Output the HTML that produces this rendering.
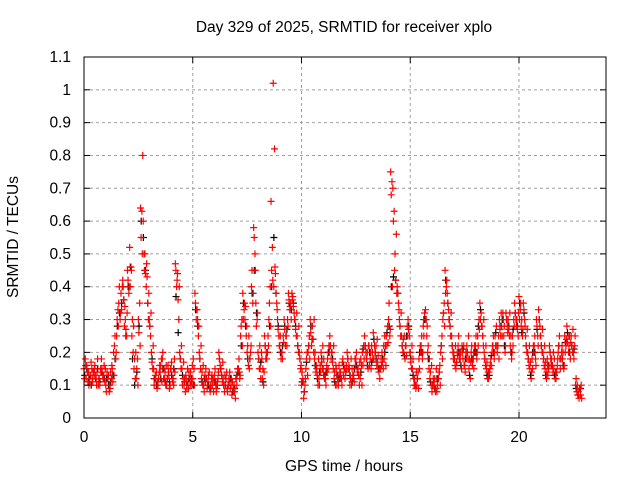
<!DOCTYPE html>
<html><head><meta charset="utf-8"><style>
body{margin:0;background:#fff}
svg text{font-family:"Liberation Sans",sans-serif;font-size:15.5px;fill:#000}
</style></head><body>
<svg id="chart" width="640" height="480" xmlns="http://www.w3.org/2000/svg">
<rect width="640" height="480" fill="#fff"/>
<g id="grid"></g><g id="ptsK"></g><g id="ptsR"></g><g id="axes"></g>
<text x="344" y="32" text-anchor="middle">Day 329 of 2025, SRMTID for receiver xplo</text>
<text x="344" y="471" text-anchor="middle">GPS time / hours</text>
<text transform="translate(18,237) rotate(-90)" text-anchor="middle">SRMTID / TECUs</text>
</svg>
<script>
const xTicks=[0,5,10,15,20];
const yTicks=[0,0.1,0.2,0.3,0.4,0.5,0.6,0.7,0.8,0.9,1,1.1];
const yTickLabels=["0","0.1","0.2","0.3","0.4","0.5","0.6","0.7","0.8","0.9","1","1.1"];
const startHour=0, stepHour=0.1;
const redA=[0.15,0.12,0.14,0.13,0.11,0.16,0.14,0.12,0.18,0.13,
0.10,0.12,0.09,0.15,0.22,0.25,0.35,0.38,0.40,0.30,
0.45,0.52,0.25,0.15,0.12,0.30,0.64,0.80,0.50,0.43,
0.30,0.20,0.15,0.12,0.10,0.14,0.18,0.12,0.10,0.13,
0.15,0.12,0.47,0.44,0.20,0.15,0.10,0.12,0.09,0.14,
0.12,0.38,0.33,0.20,0.12,0.10,0.15,0.11,0.08,0.10,
0.13,0.09,0.20,0.15,0.12,0.10,0.08,0.14,0.07,0.10,
0.12,0.15,0.25,0.38,0.30,0.20,0.15,0.40,0.58,0.35,
0.20,0.15,0.12,0.25,0.18,0.30,0.66,1.02,0.44,0.30,
0.22,0.20,0.30,0.25,0.38,0.35,0.37,0.30,0.25,0.20,
0.10,0.06,0.15,0.20,0.30,0.28,0.18,0.15,0.12,0.20,
0.15,0.12,0.18,0.25,0.20,0.12,0.15,0.10,0.14,0.18,
0.12,0.20,0.15,0.10,0.13,0.18,0.15,0.12,0.20,0.25,
0.18,0.22,0.15,0.26,0.20,0.17,0.12,0.20,0.18,0.25,
0.30,0.75,0.70,0.50,0.40,0.30,0.25,0.20,0.22,0.30,
0.20,0.15,0.12,0.10,0.18,0.22,0.28,0.33,0.20,0.12,
0.08,0.10,0.15,0.12,0.20,0.30,0.45,0.38,0.30,0.25,
0.20,0.15,0.22,0.18,0.20,0.16,0.22,0.15,0.20,0.18,
0.22,0.25,0.35,0.28,0.20,0.15,0.12,0.18,0.22,0.25,
0.20,0.30,0.28,0.25,0.32,0.30,0.22,0.25,0.35,0.30,
0.37,0.28,0.35,0.25,0.20,0.15,0.18,0.22,0.30,0.33,
0.25,0.20,0.15,0.18,0.22,0.18,0.15,0.12,0.20,0.15,
0.18,0.25,0.28,0.22,0.25,0.20,0.10,0.07,0.09];
const redB=[0.18,0.14,0.11,0.15,0.13,0.12,0.10,0.15,0.13,0.11,
0.14,0.08,0.12,0.20,0.18,0.33,0.30,0.40,0.28,0.25,
0.38,0.46,0.20,0.12,0.18,0.35,0.63,0.50,0.40,0.30,
0.25,0.15,0.12,0.09,0.14,0.18,0.12,0.10,0.16,0.10,
0.12,0.18,0.40,0.30,0.15,0.12,0.08,0.15,0.12,0.10,
0.15,0.30,0.25,0.15,0.10,0.13,0.09,0.14,0.12,0.08,
0.10,0.12,0.16,0.11,0.08,0.14,0.12,0.10,0.09,0.06,
0.15,0.12,0.30,0.33,0.25,0.16,0.20,0.35,0.50,0.30,
0.15,0.20,0.10,0.18,0.25,0.40,0.52,0.82,0.35,0.25,
0.18,0.25,0.22,0.30,0.33,0.38,0.32,0.25,0.20,0.15,
0.12,0.10,0.20,0.25,0.22,0.20,0.14,0.10,0.16,0.15,
0.12,0.16,0.22,0.18,0.15,0.10,0.12,0.14,0.10,0.15,
0.16,0.15,0.12,0.13,0.18,0.15,0.10,0.16,0.22,0.20,
0.15,0.18,0.20,0.22,0.16,0.14,0.18,0.15,0.22,0.28,
0.25,0.72,0.63,0.56,0.35,0.25,0.20,0.18,0.28,0.25,
0.15,0.12,0.09,0.14,0.22,0.18,0.32,0.25,0.15,0.10,
0.12,0.08,0.10,0.16,0.25,0.35,0.40,0.33,0.25,0.20,
0.16,0.20,0.18,0.15,0.22,0.20,0.18,0.12,0.16,0.22,
0.18,0.30,0.32,0.22,0.16,0.12,0.15,0.20,0.18,0.28,
0.25,0.25,0.32,0.20,0.28,0.25,0.18,0.30,0.30,0.25,
0.33,0.25,0.30,0.20,0.16,0.12,0.22,0.18,0.25,0.28,
0.20,0.16,0.12,0.15,0.18,0.14,0.12,0.16,0.25,0.20,
0.15,0.22,0.25,0.18,0.20,0.22,0.08,0.06,0.10];
const redC=[0.12,0.16,0.10,0.17,0.14,0.13,0.18,0.10,0.15,0.16,
0.08,0.13,0.14,0.11,0.25,0.30,0.40,0.33,0.36,0.27,
0.42,0.40,0.30,0.18,0.15,0.26,0.55,0.60,0.44,0.35,
0.28,0.17,0.10,0.14,0.12,0.16,0.20,0.14,0.12,0.09,
0.17,0.10,0.45,0.36,0.18,0.10,0.12,0.09,0.14,0.11,
0.18,0.35,0.30,0.18,0.14,0.08,0.12,0.13,0.10,0.12,
0.15,0.11,0.18,0.13,0.10,0.12,0.10,0.09,0.11,0.08,
0.10,0.18,0.28,0.30,0.34,0.22,0.18,0.45,0.55,0.28,
0.18,0.12,0.15,0.22,0.20,0.35,0.45,0.40,0.38,0.27,
0.25,0.18,0.27,0.22,0.36,0.30,0.34,0.27,0.22,0.18,
0.14,0.08,0.18,0.22,0.26,0.24,0.20,0.13,0.10,0.17,
0.18,0.10,0.15,0.22,0.17,0.14,0.10,0.16,0.12,0.13,
0.14,0.18,0.10,0.15,0.11,0.20,0.13,0.18,0.16,0.22,
0.20,0.16,0.22,0.18,0.22,0.19,0.15,0.17,0.25,0.22,
0.35,0.68,0.60,0.42,0.38,0.28,0.22,0.25,0.19,0.27,
0.17,0.18,0.10,0.12,0.15,0.25,0.25,0.30,0.22,0.14,
0.10,0.12,0.08,0.14,0.22,0.32,0.38,0.35,0.28,0.22,
0.18,0.17,0.25,0.20,0.18,0.14,0.20,0.18,0.22,0.15,
0.25,0.22,0.30,0.25,0.18,0.17,0.14,0.16,0.25,0.22,
0.22,0.27,0.25,0.28,0.30,0.27,0.25,0.22,0.32,0.27,
0.30,0.30,0.33,0.22,0.18,0.17,0.15,0.25,0.28,0.30,
0.22,0.18,0.17,0.13,0.20,0.16,0.18,0.14,0.22,0.18,
0.20,0.20,0.23,0.25,0.22,0.18,0.12,0.08,0.07];
const redD=[0.16,0.11,0.13,0.12,0.15,0.10,0.12,0.14,0.12,0.15,
0.12,0.10,0.16,0.13,0.20,0.28,0.32,0.42,0.34,0.32,
0.40,0.45,0.28,0.20,0.10,0.22,0.50,0.45,0.47,0.38,
0.32,0.22,0.13,0.11,0.16,0.11,0.15,0.16,0.14,0.15,
0.11,0.14,0.42,0.40,0.22,0.17,0.13,0.11,0.10,0.16,
0.10,0.33,0.28,0.22,0.16,0.11,0.10,0.09,0.13,0.11,
0.08,0.14,0.15,0.17,0.13,0.09,0.11,0.12,0.08,0.12,
0.14,0.13,0.22,0.35,0.28,0.25,0.22,0.38,0.45,0.32,
0.22,0.18,0.14,0.20,0.22,0.28,0.42,0.46,0.33,0.22,
0.20,0.23,0.25,0.28,0.34,0.36,0.30,0.32,0.28,0.16,
0.11,0.12,0.13,0.18,0.24,0.30,0.16,0.18,0.14,0.22,
0.13,0.14,0.20,0.20,0.22,0.16,0.13,0.12,0.17,0.15,
0.15,0.16,0.18,0.12,0.16,0.14,0.17,0.10,0.18,0.18,
0.22,0.20,0.18,0.20,0.24,0.15,0.16,0.22,0.16,0.23,
0.27,0.40,0.45,0.38,0.33,0.32,0.24,0.22,0.25,0.20,
0.22,0.10,0.14,0.09,0.20,0.20,0.30,0.28,0.18,0.16,
0.11,0.09,0.12,0.10,0.18,0.28,0.42,0.30,0.32,0.18,
0.22,0.19,0.20,0.22,0.16,0.18,0.25,0.17,0.18,0.20,
0.20,0.27,0.28,0.30,0.22,0.14,0.16,0.22,0.20,0.22,
0.18,0.32,0.30,0.22,0.26,0.32,0.20,0.28,0.28,0.32,
0.35,0.27,0.28,0.27,0.22,0.14,0.20,0.16,0.22,0.25,
0.27,0.22,0.14,0.16,0.16,0.20,0.14,0.18,0.18,0.22,
0.16,0.24,0.20,0.23,0.27,0.25,0.10,0.09,0.06];
const blackC=[0.13,0.15,0.12,0.10,0.14,0.12,0.15,0.11,0.14,0.12,
0.12,0.10,0.11,0.13,0.18,0.28,0.32,0.35,0.36,0.25,
0.40,0.46,0.18,0.10,0.14,0.28,0.60,0.55,0.45,0.35,
0.28,0.18,0.12,0.10,0.12,0.12,0.15,0.11,0.12,0.11,
0.13,0.15,0.37,0.26,0.18,0.13,0.11,0.10,0.12,0.12,
0.10,0.33,0.28,0.18,0.11,0.12,0.12,0.10,0.09,0.12,
0.11,0.10,0.18,0.13,0.10,0.12,0.10,0.12,0.08,0.09,
0.13,0.14,0.22,0.35,0.28,0.18,0.18,0.38,0.45,0.32,
0.18,0.17,0.11,0.22,0.20,0.28,0.40,0.55,0.38,0.28,
0.20,0.22,0.28,0.27,0.35,0.33,0.35,0.28,0.22,0.18,
0.11,0.08,0.17,0.22,0.28,0.24,0.16,0.12,0.14,0.18,
0.13,0.14,0.20,0.22,0.18,0.11,0.13,0.12,0.12,0.16,
0.14,0.18,0.13,0.11,0.15,0.16,0.13,0.14,0.21,0.22,
0.16,0.20,0.17,0.24,0.18,0.15,0.15,0.18,0.20,0.26,
0.28,0.40,0.43,0.42,0.38,0.28,0.22,0.19,0.25,0.28,
0.18,0.13,0.10,0.12,0.20,0.20,0.30,0.30,0.18,0.11,
0.10,0.09,0.12,0.14,0.22,0.32,0.42,0.35,0.28,0.22,
0.18,0.17,0.20,0.16,0.21,0.18,0.20,0.13,0.18,0.20,
0.20,0.28,0.33,0.25,0.18,0.13,0.13,0.19,0.20,0.26,
0.22,0.28,0.30,0.22,0.30,0.28,0.20,0.27,0.32,0.28,
0.35,0.26,0.32,0.22,0.18,0.13,0.20,0.20,0.27,0.30,
0.22,0.18,0.13,0.16,0.20,0.16,0.13,0.14,0.22,0.18,
0.16,0.23,0.26,0.20,0.22,0.21,0.09,0.07,0.09];
const X0=84,X1=606,Y0=418,Y1=57,XMAX=24,YMAX=1.1;
const xs=h=>X0+(X1-X0)*h/XMAX;
const ys=v=>Y0-(Y0-Y1)*v/YMAX;
const NS="http://www.w3.org/2000/svg";
function mk(tag,attrs,parent){const e=document.createElementNS(NS,tag);for(const k in attrs)e.setAttribute(k,attrs[k]);parent.appendChild(e);return e;}
const grid=document.getElementById('grid'),axes=document.getElementById('axes');
yTicks.forEach((v,i)=>{const y=ys(v);
 if(i>0&&i<yTicks.length-1){const g=mk('line',{x1:X0,x2:X1,y1:y,y2:y,stroke:'#a0a0a0','stroke-dasharray':'3,3'},grid);
 
 }
 mk('line',{x1:X0,x2:X0+6,y1:y,y2:y,stroke:'#000'},axes);mk('line',{x1:X1,x2:X1-6,y1:y,y2:y,stroke:'#000'},axes);
 const t=mk('text',{x:X0-13,y:y+5,'text-anchor':'end'},axes);t.textContent=yTickLabels[i];
 
 });
xTicks.forEach(h=>{const x=xs(h);
 if(h>0){const g=mk('line',{x1:x,x2:x,y1:Y0,y2:Y1,stroke:'#a0a0a0','stroke-dasharray':'3,3'},grid);
 
 }
 mk('line',{x1:x,x2:x,y1:Y0,y2:Y0-6,stroke:'#000'},axes);mk('line',{x1:x,x2:x,y1:Y1,y2:Y1+6,stroke:'#000'},axes);
 const t=mk('text',{x:x,y:Y0+24,'text-anchor':'middle'},axes);t.textContent=String(h);
 
 });
const frame=mk('rect',{x:X0,y:Y1,width:X1-X0,height:Y0-Y1,fill:'none',stroke:'#000'},axes);


function plus(parent,h,v,color){const x=xs(h),y=ys(v);
 const p=mk('path',{d:`M${x-3.5},${y}h7M${x},${y-3.5}v7`,stroke:color,'stroke-width':1.2,fill:'none'},parent);
 
 }
const gK=document.getElementById('ptsK'),gR=document.getElementById('ptsR');
blackC.forEach((v,i)=>plus(gK,startHour+i*stepHour+0.03,v,'#000'));
redA.forEach((v,i)=>plus(gR,startHour+i*stepHour,v,'#f00'));
redB.forEach((v,i)=>plus(gR,startHour+i*stepHour+0.06,v,'#f00'));
redC.forEach((v,i)=>plus(gR,startHour+i*stepHour+0.025,v,'#f00'));
redD.forEach((v,i)=>plus(gR,startHour+i*stepHour+0.08,v,'#f00'));
</script>
</body></html>
